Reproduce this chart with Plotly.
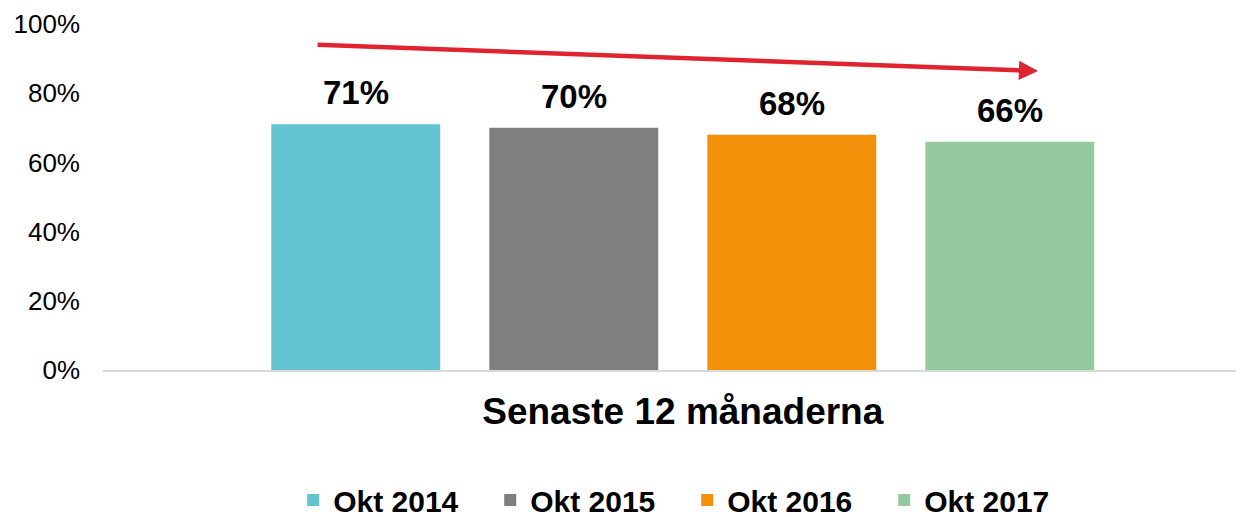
import plotly.graph_objects as go

category = ["Senaste 12 månaderna"]
series_names = ["Okt 2014", "Okt 2015", "Okt 2016", "Okt 2017"]
series_values = [0.71, 0.70, 0.68, 0.66]
series_colors = ["#63C3D0", "#7F7F7F", "#F3920A", "#95CA9F"]
y_tick_vals = [0, 0.2, 0.4, 0.6, 0.8, 1.0]
y_tick_text = ["0%", "20%", "40%", "60%", "80%", "100%"]

FONT = "Arial, Liberation Sans, sans-serif"

# layout geometry (page body has an 8px margin, compensated here)
W, H = 1244, 517
ML, MR, MT, MB = 95, 8, 16, 155
BARGAP, BARGROUPGAP = 0.248, 0.225
XRANGE = [-0.5, 0.484]
plot_w = W - ML - MR
px_per_unit = plot_w / (XRANGE[1] - XRANGE[0])
slot_px = (1 - BARGAP) / len(series_names) * px_per_unit

fig = go.Figure()
for i, (name, val, col) in enumerate(zip(series_names, series_values, series_colors)):
    fig.add_trace(go.Bar(
        x=category, y=[val], name=name,
        marker=dict(color=col, line=dict(width=0)),
        cliponaxis=False,
    ))
    fig.add_annotation(
        x=category[0], y=val, xref="x", yref="y",
        xshift=(i - (len(series_names) - 1) / 2) * slot_px,
        yshift=11, yanchor="bottom", xanchor="center",
        text=f"<b>{round(val*100)}%</b>", showarrow=False,
        font=dict(family=FONT, size=33, color="#000000"),
    )

fig.add_annotation(
    xref="x domain", yref="y domain", axref="x domain", ayref="y domain",
    x=0.8195, y=0.864, ax=0.1867, ay=0.94,
    text="", showarrow=True, arrowhead=2, arrowsize=0.85,
    arrowwidth=4.5, arrowcolor="#E0242F", standoff=0, startstandoff=0,
)

fig.update_layout(
    width=W, height=H,
    paper_bgcolor="white", plot_bgcolor="white",
    margin=dict(l=ML, r=MR, t=MT, b=MB, autoexpand=False),
    barmode="group", bargap=BARGAP, bargroupgap=BARGROUPGAP,
    font=dict(family=FONT, color="#000000"),
    showlegend=True,
    legend=dict(
        orientation="h", x=0.512, xanchor="center", xref="paper",
        y=-0.376, yref="paper", yanchor="middle",
        entrywidth=152, entrywidthmode="pixels",
        font=dict(family=FONT, size=30, color="#000000", weight="bold"),
        traceorder="normal", itemclick=False, itemdoubleclick=False,
    ),
    xaxis=dict(
        type="category", range=XRANGE, automargin=False,
        showline=True, linecolor="#D9D9D9", linewidth=2,
        showgrid=False, ticks="", ticklabelstandoff=8,
        tickfont=dict(family=FONT, size=37, color="#000000", weight="bold"),
        fixedrange=True,
    ),
    yaxis=dict(
        range=[0, 1.0], tickvals=y_tick_vals, ticktext=y_tick_text, automargin=False,
        showgrid=False, zeroline=False, showline=False, ticks="",
        tickfont=dict(family=FONT, size=26, color="#000000"),
        ticklabelstandoff=22,
        fixedrange=True,
    ),
)

fig.write_html("out.html")
